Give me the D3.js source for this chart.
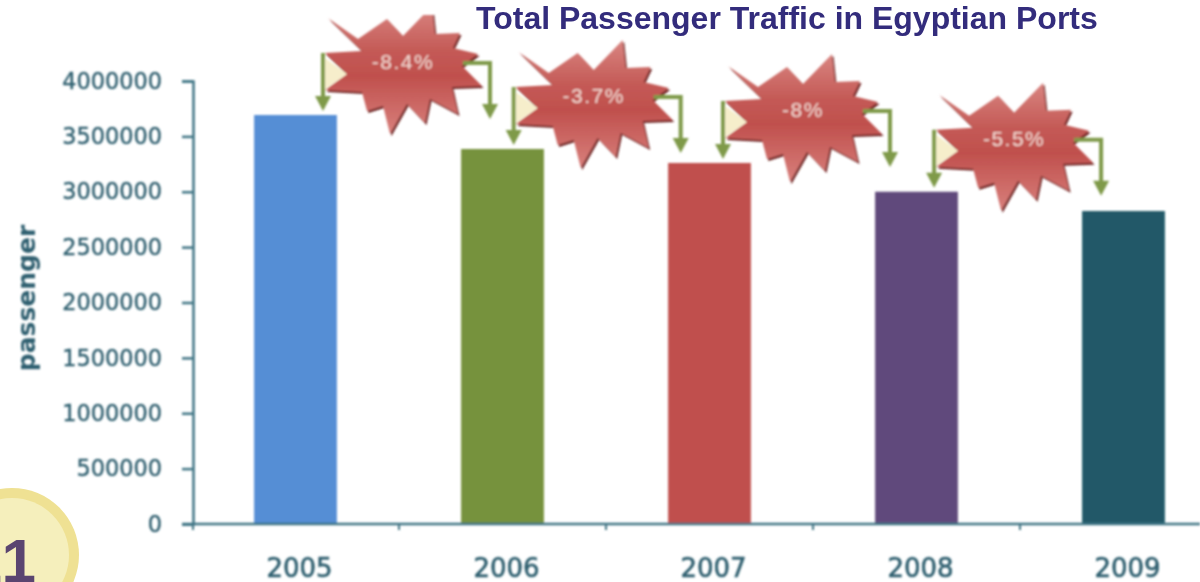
<!DOCTYPE html>
<html>
<head>
<meta charset="utf-8">
<script src="https://cdn.jsdelivr.net/npm/d3@7"></script>
<style>
  html, body { margin: 0; padding: 0; background: #fff; }
  svg { display: block; }
</style>
</head>
<body>
<svg width="1200" height="582"></svg>
<script>
(function () {
  'use strict';

  var years = ['2005', '2006', '2007', '2008', '2009'];
  var passengers = [3693000, 3386000, 3260000, 3000000, 2826000];
  var yTicks = [0, 500000, 1000000, 1500000, 2000000, 2500000, 3000000, 3500000, 4000000];
  var changeLabels = ['-8.4%', '-3.7%', '-8%', '-5.5%'];
  var barColors = ['#558ed5', '#76923c', '#c0504d', '#604a7b', '#215968'];

  var titleText = 'Total Passenger Traffic in Egyptian Ports';
  var yLabel = 'passenger';
  var pageNumber = '11';

  var axisColor = '#3f7484';
  var labelColor = '#2f5f6f';

  // how far right of its bar's centre each burst sits, in px
  var burstShift = [104.5, 88.2, 90.5, 94.6];

  // outline of the burst, relative to its centre
  var burstShape = [
    [-72, -48], [-42, -27], [-13, -47], [3, -30], [32, -60], [35, -32], [60, -33],
    [53, -18], [78, -12], [62, 0], [82, 20], [52, 21], [58, 48], [30, 33],
    [25, 57], [7, 38], [-10, 68], [-17, 40], [-33, 45], [-38, 26], [-75, 24],
    [-53, 8], [-75, -13], [-38, -15]
  ];

  var svg = d3.select('svg');

  var x = d3.scaleBand()
      .domain(years)
      .range([192, 1227])
      .paddingInner(0.6)
      .paddingOuter(0.3);

  var y = d3.scaleLinear()
      .domain([0, 4000000])
      .range([524, 81]);

  var defs = svg.append('defs');

  var blur = defs.append('filter').attr('id', 'soft')
      .attr('x', '-5%').attr('y', '-5%').attr('width', '110%').attr('height', '110%');
  blur.append('feGaussianBlur').attr('stdDeviation', 0.8);

  var grad = defs.append('linearGradient').attr('id', 'burstFill')
      .attr('x1', 0).attr('x2', 0).attr('y1', 0).attr('y2', 1);
  grad.append('stop').attr('offset', '0%').attr('stop-color', '#d98581');
  grad.append('stop').attr('offset', '35%').attr('stop-color', '#c45a56');
  grad.append('stop').attr('offset', '55%').attr('stop-color', '#c0504d');
  grad.append('stop').attr('offset', '100%').attr('stop-color', '#d8807c');

  defs.append('clipPath').attr('id', 'topEdge')
    .append('rect').attr('x', 0).attr('y', 15).attr('width', 1200).attr('height', 567);

  // page number badge in the corner
  var badge = svg.append('g');
  badge.append('circle').attr('cx', 12).attr('cy', 555).attr('r', 67).attr('fill', '#efe193');
  badge.append('circle').attr('cx', 12).attr('cy', 555).attr('r', 57).attr('fill', '#f5efbc');
  badge.append('text')
      .attr('x', 39)
      .attr('y', 582)
      .attr('text-anchor', 'end')
      .attr('font-family', '"Liberation Sans", Arial, sans-serif')
      .attr('font-weight', 'bold')
      .attr('font-size', 62)
      .attr('letter-spacing', 3)
      .attr('fill', '#5a4570')
      .text(pageNumber);

  var chart = svg.append('g').attr('filter', 'url(#soft)');

  //bars
  chart.append('g').selectAll('rect')
      .data(passengers)
      .enter()
      .append('rect')
      .attr('x', function (d, i) { return x(years[i]); })
      .attr('y', function (d) { return y(d); })
      .attr('width', x.bandwidth())
      .attr('height', function (d) { return y(0) - y(d); })
      .attr('fill', function (d, i) { return barColors[i]; });

  //y axis
  var yAxis = chart.append('g')
      .attr('transform', 'translate(193,0)')
      .call(d3.axisLeft(y).tickValues(yTicks).tickFormat(d3.format('d')).tickSize(11).tickPadding(20));
  yAxis.select('.domain').attr('stroke', axisColor).attr('stroke-width', 2.5);
  yAxis.selectAll('.tick line').attr('stroke', axisColor).attr('stroke-width', 2.5);
  yAxis.selectAll('text')
      .attr('fill', labelColor)
      .attr('stroke', labelColor)
      .attr('stroke-width', 0.4)
      .attr('font-family', '"DejaVu Sans", sans-serif')
      .attr('font-size', 22.4);

  //x axis, labels under the bars and ticks between them
  var xAxis = chart.append('g')
      .attr('transform', 'translate(0,524)')
      .call(d3.axisBottom(x).tickSize(0).tickPadding(35));
  xAxis.select('.domain').remove();
  xAxis.selectAll('text')
      .attr('x', 4)
      .attr('fill', labelColor)
      .attr('stroke', labelColor)
      .attr('stroke-width', 0.6)
      .attr('font-family', '"DejaVu Sans", sans-serif')
      .attr('font-size', 26);

  chart.append('line')
      .attr('x1', 182).attr('x2', 1200)
      .attr('y1', y(0)).attr('y2', y(0))
      .attr('stroke', axisColor).attr('stroke-width', 2.5);

  chart.append('g').selectAll('line')
      .data(years.slice(1))
      .enter()
      .append('line')
      .attr('x1', function (d) { return x(d) - x.step() * 0.3; })
      .attr('x2', function (d) { return x(d) - x.step() * 0.3; })
      .attr('y1', y(0))
      .attr('y2', y(0) + 6)
      .attr('stroke', axisColor)
      .attr('stroke-width', 2);

  chart.append('line')
      .attr('x1', 193).attr('x2', 193)
      .attr('y1', y(0)).attr('y2', y(0) + 6)
      .attr('stroke', axisColor).attr('stroke-width', 2);

  chart.append('text')
      .attr('transform', 'translate(35,298) rotate(-90)')
      .attr('text-anchor', 'middle')
      .attr('font-family', '"DejaVu Sans", sans-serif')
      .attr('font-weight', 'bold')
      .attr('font-size', 25)
      .attr('fill', labelColor)
      .text(yLabel);

  //bursts with their arrows, hung from the top of the bar they start at
  var line = d3.line();
  var burst = chart.append('g').selectAll('g')
      .data(changeLabels)
      .enter()
      .append('g')
      .attr('clip-path', function (d, i) { return i === 0 ? 'url(#topEdge)' : null; })
      .append('g')
      .attr('transform', function (d, i) {
        var cx = x(years[i]) + x.bandwidth() / 2 + burstShift[i];
        var cy = y(passengers[i]) - 49;
        return 'translate(' + cx + ',' + cy + ')';
      });

  burst.append('path')
      .attr('d', line(burstShape) + 'Z')
      .attr('transform', 'translate(1.5,2)')
      .attr('fill', '#6e2422');

  burst.append('path')
      .attr('d', line(burstShape) + 'Z')
      .attr('fill', 'url(#burstFill)');

  burst.append('path')
      .attr('d', 'M-75,-8L-53,8L-75,23Z')
      .attr('fill', '#f6eecb');

  var arrowColor = '#7f9a4a';
  burst.append('path')
      .attr('d', 'M-77,-13V32')
      .attr('fill', 'none').attr('stroke', arrowColor).attr('stroke-width', 4);
  burst.append('path')
      .attr('d', 'M-85,30L-69,30L-77,45Z')
      .attr('fill', arrowColor);
  burst.append('path')
      .attr('d', 'M63,-3H90V40')
      .attr('fill', 'none').attr('stroke', arrowColor).attr('stroke-width', 4);
  burst.append('path')
      .attr('d', 'M82,38L98,38L90,53Z')
      .attr('fill', arrowColor);

  burst.append('text')
      .attr('x', 3)
      .attr('y', 3)
      .attr('text-anchor', 'middle')
      .attr('font-family', '"Liberation Sans", Arial, sans-serif')
      .attr('font-size', 21)
      .attr('letter-spacing', 1.5)
      .attr('fill', '#f3d9d2')
      .text(function (d) { return d; });

  svg.append('text')
      .attr('x', 476)
      .attr('y', 29)
      .attr('font-family', '"Liberation Sans", Arial, sans-serif')
      .attr('font-weight', 'bold')
      .attr('font-size', 32)
      .attr('fill', '#332c7c')
      .text(titleText);
}());
</script>
</body>
</html>
